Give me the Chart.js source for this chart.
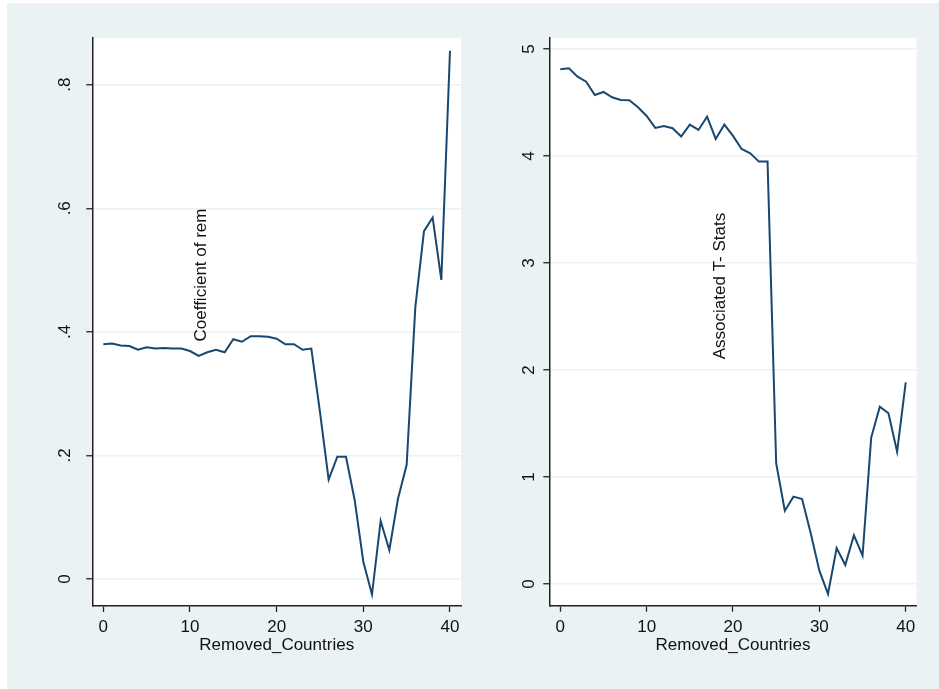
<!DOCTYPE html>
<html>
<head>
<meta charset="utf-8">
<script src="https://cdn.jsdelivr.net/npm/chart.js@4.4.1/dist/chart.umd.min.js"></script>
<style>
  body { margin: 0; background: #ffffff; }
  #bg { position: absolute; left: 7px; top: 3px; width: 932px; height: 686px; background: #eaf2f3; }
  canvas { position: absolute; top: 0; }
  #leftChart { left: 0; }
  #rightChart { left: 480px; }
</style>
</head>
<body>
<div id="bg"></div>
<canvas id="leftChart" width="480" height="689"></canvas>
<canvas id="rightChart" width="459" height="689"></canvas>
<script>
// x values shared by both panels
const removedCountries = [0, 1, 2, 3, 4, 5, 6, 7, 8, 9, 10, 11, 12, 13, 14, 15, 16, 17, 18, 19, 20,
    21, 22, 23, 24, 25, 26, 27, 28, 29, 30, 31, 32, 33, 34, 35, 36, 37, 38, 39, 40];

const coefficientOfRem = [0.380, 0.381, 0.378, 0.377, 0.371, 0.375, 0.373, 0.374, 0.373, 0.373, 0.369,
    0.361, 0.367, 0.371, 0.367, 0.388, 0.384, 0.393, 0.393, 0.392, 0.389,
    0.380, 0.380, 0.371, 0.373, 0.270, 0.161, 0.198, 0.198, 0.128, 0.028,
    -0.025, 0.094, 0.047, 0.130, 0.185, 0.440, 0.563, 0.585, 0.484, 0.855];

const associatedTStats = [4.810, 4.819, 4.741, 4.694, 4.570, 4.598, 4.548, 4.523, 4.520, 4.455, 4.374,
    4.262, 4.280, 4.259, 4.181, 4.293, 4.243, 4.367, 4.159, 4.293, 4.187,
    4.065, 4.025, 3.947, 3.947, 1.128, 0.685, 0.816, 0.794, 0.474, 0.125,
    -0.093, 0.336, 0.178, 0.455, 0.265, 1.368, 1.657, 1.595, 1.237, 1.885];

const xTicks = [0, 10, 20, 30, 40];
const leftYTicks = [0, 0.2, 0.4, 0.6, 0.8];
const leftYLabels = ['0', '.2', '.4', '.6', '.8'];
const rightYTicks = [0, 1, 2, 3, 4, 5];
const rightYLabels = ['0', '1', '2', '3', '4', '5'];

Chart.defaults.font.family = "'Liberation Sans', Arial, sans-serif";
Chart.defaults.font.size = 17;
Chart.defaults.color = '#111';

const lineColor = '#1a476f';
const gridColor = '#eaf2f3';
const axisColor = '#222';

// white plot region
const plotBgPlugin = {
    id: 'plotBg',
    beforeDraw: function (chart) {
        const a = chart.chartArea;
        chart.ctx.save();
        chart.ctx.fillStyle = '#ffffff';
        chart.ctx.fillRect(a.left, a.top, a.right - a.left, a.bottom - a.top);
        chart.ctx.restore();
    }
};

// the y title sits inside the plot, written upwards
const innerTitlePlugin = {
    id: 'innerTitle',
    afterDraw: function (chart, args, opts) {
        const ctx = chart.ctx;
        ctx.save();
        ctx.translate(opts.x, opts.y);
        ctx.rotate(-Math.PI / 2);
        ctx.font = "17px 'Liberation Sans', Arial, sans-serif";
        ctx.fillStyle = '#111';
        ctx.textAlign = 'center';
        ctx.textBaseline = 'middle';
        ctx.fillText(opts.text, 0, 0);
        ctx.restore();
    }
};

function makeChart(canvasId, values, setup) {
    const points = removedCountries.map((x, i) => ({ x: x, y: values[i] }));
    return new Chart(document.getElementById(canvasId), {
        type: 'line',
        data: {
            datasets: [{
                data: points,
                borderColor: lineColor,
                borderWidth: 2,
                pointRadius: 0,
                tension: 0,
                fill: false
            }]
        },
        plugins: [plotBgPlugin, innerTitlePlugin],
        options: {
            responsive: false,
            animation: false,
            devicePixelRatio: 1,
            layout: { padding: setup.padding },
            plugins: {
                legend: { display: false },
                tooltip: { enabled: false },
                innerTitle: setup.innerTitle
            },
            scales: {
                x: {
                    type: 'linear',
                    min: -1.27,
                    max: 41.27,
                    afterBuildTicks: s => { s.ticks = xTicks.map(v => ({ value: v })); },
                    afterFit: s => { s.height = 48; },
                    ticks: { padding: 5, maxRotation: 0, minRotation: 0 },
                    grid: { drawOnChartArea: false, drawTicks: true, tickLength: 6, tickColor: axisColor, tickWidth: 1.3 },
                    border: { display: true, color: axisColor, width: 1.5 },
                    title: { display: true, text: 'Removed_Countries', padding: { top: 0, bottom: -2 }, font: { size: 17 } }
                },
                y: {
                    type: 'linear',
                    min: setup.yMin,
                    max: setup.yMax,
                    afterBuildTicks: s => { s.ticks = setup.yTicks.map(v => ({ value: v })); },
                    afterFit: s => { s.width = setup.yWidth; },
                    ticks: {
                        minRotation: 90,
                        maxRotation: 90,
                        crossAlign: 'center',
                        padding: setup.yPad,
                        callback: function (value) {
                            const i = setup.yTicks.indexOf(value);
                            return i >= 0 ? setup.yLabels[i] : '';
                        }
                    },
                    grid: { color: gridColor, lineWidth: 1.5, drawTicks: true, tickLength: 6, tickColor: axisColor, tickWidth: 1.3 },
                    border: { display: true, color: axisColor, width: 1.5 }
                }
            }
        }
    });
}

makeChart('leftChart', coefficientOfRem, {
    padding: { left: 0, top: 37.7, right: 19, bottom: 35 },
    yMin: -0.0436,
    yMax: 0.876,
    yTicks: leftYTicks,
    yLabels: leftYLabels,
    yWidth: 92.3,
    yPad: 14,
    innerTitle: { text: 'Coefficient of rem', x: 201, y: 275 }
});

makeChart('rightChart', associatedTStats, {
    padding: { left: 0, top: 37.7, right: 22.3, bottom: 35.3 },
    yMin: -0.203,
    yMax: 5.105,
    yTicks: rightYTicks,
    yLabels: rightYLabels,
    yWidth: 69.3,
    yPad: 9.6,
    innerTitle: { text: 'Associated T- Stats', x: 240, y: 286 }
});
</script>
</body>
</html>
